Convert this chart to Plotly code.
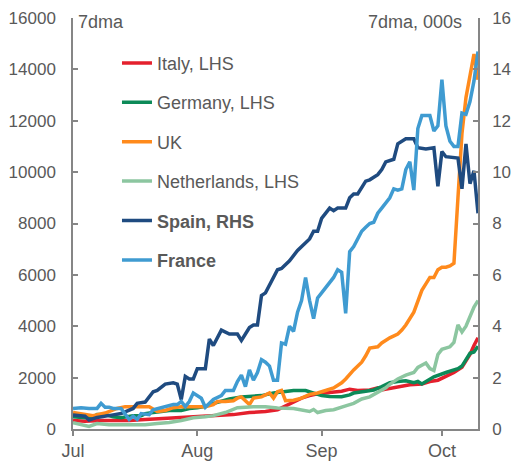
import plotly.graph_objects as go

YEAR = "2020-"

# ---------------- data ----------------
italy_dates = ["07-01","07-04","07-08","07-11","07-15","07-19","07-23","07-27","07-30","08-02","08-06",
               "08-10","08-14","08-18","08-21","08-23","08-25","08-27","08-29","08-31","09-03","09-06",
               "09-08","09-10","09-13","09-15","09-16","09-19","09-21","09-23","09-26","09-28","09-30",
               "10-02","10-04","10-06","10-07","10-08","10-09","10-10"]
italy_vals = [330,300,330,330,330,370,400,450,480,480,500,
              560,640,680,750,900,1070,1200,1300,1370,1420,1470,
              1550,1500,1520,1600,1520,1600,1650,1720,1750,1850,1900,
              2050,2200,2400,2650,2900,3250,3550]

germany_dates = ["07-01","07-04","07-06","07-07","07-09","07-11","07-13","07-15","07-16","07-18","07-19",
                 "07-21","07-23","07-25","07-28","07-30","08-01","08-03","08-04","08-07","08-09","08-12",
                 "08-14","08-17","08-20","08-22","08-25","08-28","08-30","09-01","09-03","09-06","09-08",
                 "09-09","09-12","09-14","09-16","09-18","09-20","09-22","09-24","09-25","09-26","09-27",
                 "09-29","10-02","10-04","10-05","10-06","10-07","10-08","10-09","10-10"]
germany_vals = [480,440,450,560,560,480,440,480,520,520,600,
                640,680,720,720,800,830,880,950,1070,1170,1250,
                1260,1300,1400,1450,1500,1500,1400,1300,1270,1260,1330,
                1400,1470,1520,1650,1800,1850,1880,1800,1850,1750,1850,
                2030,2200,2280,2350,2450,2700,2950,3000,3220]

uk_dates = ["07-01","07-04","07-06","07-09","07-12","07-14","07-18","07-20","07-22","07-24","07-26",
            "07-28","07-31","08-03","08-05","08-06","08-08","08-10","08-11","08-12","08-14","08-15",
            "08-17","08-19","08-20","08-21","08-22","08-23","08-25","08-27","08-29","08-31","09-02",
            "09-04","09-06","09-07","09-09","09-11","09-12","09-13","09-15","09-16","09-18","09-20",
            "09-21","09-22","09-24","09-25","09-26","09-27","09-28","09-29","09-30","10-01","10-02",
            "10-03","10-04","10-05","10-06","10-07","10-08","10-09","10-10"]
uk_vals = [640,560,520,620,800,870,870,870,680,720,830,
           870,870,870,950,1070,1070,1100,1200,1250,950,1200,
           1250,1400,1200,1450,1500,1100,1120,1200,1350,1400,1500,
           1600,1800,1950,2300,2600,2850,3150,3200,3350,3550,3700,
           3850,4050,4550,5000,5400,5650,5900,5900,6200,6300,6300,
           6350,6450,9000,11500,12900,13800,14600,13600]

nl_dates = ["07-01","07-03","07-05","07-07","07-10","07-15","07-19","07-22","07-25","07-28","07-31",
            "08-03","08-05","08-08","08-11","08-15","08-18","08-21","08-25","08-29","08-30","08-31",
            "09-02","09-04","09-06","09-07","09-09","09-11","09-13","09-15","09-17","09-18","09-20",
            "09-22","09-24","09-25","09-27","09-28","09-29","09-30","10-01","10-03","10-04","10-05",
            "10-06","10-07","10-08","10-09","10-10"]
nl_vals = [250,170,100,210,170,170,170,210,250,330,440,
           480,520,640,830,870,870,820,800,680,760,640,
           720,750,830,900,1000,1170,1250,1420,1600,1740,1950,
           2100,2200,2400,2570,2350,2280,2900,3100,3200,3370,4050,
           3780,4000,4350,4750,5000]

# Spain and France in thousands (right-hand scale)
spain_dates = ["07-01","07-04","07-05","07-07","07-11","07-13","07-16","07-17","07-19","07-21","07-22",
               "07-24","07-26","07-27","07-28","07-29","07-30","07-31","08-01","08-03","08-04","08-05",
               "08-07","08-09","08-11","08-12","08-14","08-15","08-16","08-17","08-18","08-20","08-21",
               "08-22","08-24","08-26","08-27","08-29","08-30","08-31","09-01","09-03","09-04","09-05",
               "09-07","09-08","09-09","09-10","09-12","09-13","09-14","09-15","09-16","09-17","09-19",
               "09-20","09-22","09-24","09-25","09-27","09-29","09-30","10-01","10-02","10-05","10-06",
               "10-07","10-08","10-09","10-10"]
spain_vals = [0.55,0.5,0.35,0.45,0.55,0.6,0.8,1.0,1.05,1.45,1.5,
              1.75,1.8,1.75,1.15,2.05,1.95,1.95,2.35,2.35,3.5,3.25,
              3.85,3.7,3.7,3.45,3.95,4.05,4.05,5.2,5.3,5.9,6.2,
              6.25,6.55,6.95,7.1,7.4,7.7,7.7,8.2,8.6,8.5,8.6,
              8.6,9.0,9.15,9.15,9.65,9.7,9.8,9.9,10.1,10.4,10.5,
              11.1,11.3,11.3,10.95,10.9,10.95,9.45,10.8,10.6,10.55,9.35,
              11.1,9.55,10.05,8.4]

france_dates = ["07-01","07-03","07-05","07-07","07-08","07-09","07-10","07-11","07-13","07-15","07-16",
                "07-17","07-18","07-20","07-21","07-23","07-24","07-26","07-27","07-28","07-29","07-30",
                "07-31","08-02","08-03","08-05","08-07","08-08","08-10","08-11","08-12","08-13","08-14",
                "08-15","08-16","08-17","08-18","08-19","08-20","08-21","08-22","08-23","08-24","08-25",
                "08-26","08-27","08-28","08-29","08-30","08-31","09-01","09-02","09-03","09-04","09-05",
                "09-06","09-07","09-08","09-09","09-10","09-11","09-12","09-13","09-14","09-15","09-16",
                "09-17","09-18","09-19","09-20","09-21","09-22","09-23","09-24","09-25","09-26","09-28",
                "09-29","09-30","10-01","10-02","10-03","10-04","10-05","10-06","10-07","10-08","10-09",
                "10-10"]
france_vals = [0.8,0.83,0.8,0.8,1.0,0.85,0.85,0.8,0.8,0.37,0.5,
               0.37,0.6,0.56,0.75,0.83,0.85,0.95,0.95,1.07,0.87,1.07,
               1.4,1.2,0.85,1.15,1.3,1.5,1.5,1.85,2.1,1.65,2.3,
               1.9,2.2,2.7,2.6,2.45,1.9,1.9,3.35,3.3,4.0,3.8,
               4.55,5.0,5.9,5.0,4.3,5.1,5.3,5.5,5.7,5.9,6.2,
               6.1,4.5,6.9,7.1,7.4,7.7,7.85,8.0,8.05,8.4,8.6,
               8.8,9.0,9.35,9.3,9.35,10.1,10.4,9.3,11.7,12.2,12.2,
               11.6,11.8,13.6,11.8,11.2,11.0,11.0,12.3,12.25,12.75,13.55,
               14.7]

tick_dates = ["07-01", "08-01", "09-01", "10-01"]
tick_labels = ["Jul", "Aug", "Sep", "Oct"]
left_ticks = [0, 2000, 4000, 6000, 8000, 10000, 12000, 14000, 16000]
right_ticks = [0, 2, 4, 6, 8, 10, 12, 14, 16]

# ---------------- figure ----------------
GRAY = "#595959"
AXIS = "#868686"
FONT = "Liberation Sans, Arial, sans-serif"
FS = 18
FSY = 17

def dts(lst):
    return [YEAR + s for s in lst]

series = [
    ("Italy, LHS", italy_dates, italy_vals, "#E4202D", "y"),
    ("Germany, LHS", germany_dates, germany_vals, "#0C8A58", "y"),
    ("UK", uk_dates, uk_vals, "#FF8A1C", "y"),
    ("Netherlands, LHS", nl_dates, nl_vals, "#8CC6A0", "y"),
    ("<b>Spain, RHS</b>", spain_dates, spain_vals, "#1F4B80", "y2"),
    ("<b>France</b>", france_dates, france_vals, "#3F9BD1", "y2"),
]

fig = go.Figure()
for i, (name, dd, vv, col, ax) in enumerate(series):
    fig.add_trace(go.Scatter(
        x=dts(dd), y=vv, mode="lines", name=name, yaxis=ax,
        legendgroup="g%d" % i,
        line=dict(color=col, width=3.5),
    ))

# page body has an 8px margin, so the figure is 8px smaller than the window
fig.update_layout(
    width=511, height=454,
    margin=dict(l=65, r=41, t=10, b=33, autoexpand=False),
    paper_bgcolor="white", plot_bgcolor="white",
    font=dict(family=FONT, size=FS, color=GRAY),
    showlegend=True,
    legend=dict(x=0.1086, y=0.935, xanchor="left", yanchor="top",
                bgcolor="rgba(0,0,0,0)", tracegroupgap=13,
                font=dict(family=FONT, size=FS, color=GRAY)),
    xaxis=dict(type="date", range=[YEAR + "07-01", YEAR + "10-10"],
               tickvals=dts(tick_dates), ticktext=tick_labels,
               ticks="outside", ticklen=5, tickcolor=AXIS, tickwidth=1.5,
               showline=True, linecolor=AXIS, linewidth=1.5, automargin=False,
               showgrid=False, zeroline=False, ticklabeloverflow="allow",
               tickfont=dict(size=FS, color=GRAY)),
    yaxis=dict(range=[0, 16000], tickvals=left_ticks, tickformat="d",
               ticks="inside", ticklen=5, tickcolor=AXIS, tickwidth=1.5,
               showline=True, linecolor=AXIS, linewidth=1.5, automargin=False,
               showgrid=False, zeroline=False, ticklabelstandoff=12,
               ticklabeloverflow="allow",
               tickfont=dict(size=FSY, color=GRAY)),
    yaxis2=dict(range=[0, 16], tickvals=right_ticks, overlaying="y", side="right",
                ticks="inside", ticklen=5, tickcolor=AXIS, tickwidth=1.5,
                showline=True, linecolor=AXIS, linewidth=1.5, automargin=False,
                showgrid=False, zeroline=False, ticklabelstandoff=9,
                ticklabeloverflow="allow",
                tickfont=dict(size=FSY, color=GRAY)),
)

fig.add_annotation(text="7dma", xref="paper", yref="paper", x=0.007, y=0.99,
                   xanchor="left", yanchor="middle", showarrow=False,
                   font=dict(family=FONT, size=FS, color=GRAY))
fig.add_annotation(text="7dma, 000s", xref="paper", yref="paper", x=0.965, y=0.99,
                   xanchor="right", yanchor="middle", showarrow=False,
                   font=dict(family=FONT, size=FS, color=GRAY))

fig.write_html("out.html")
